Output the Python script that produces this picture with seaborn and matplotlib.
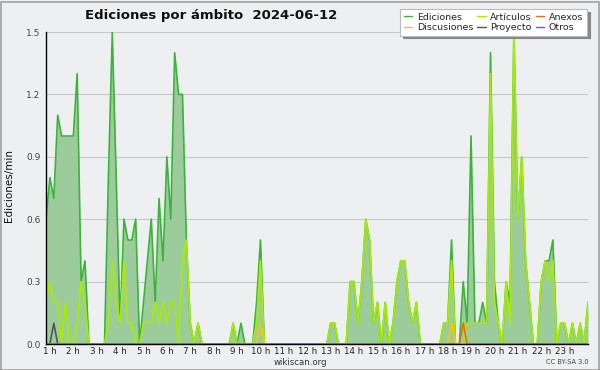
import numpy as np
import pandas as pd
import matplotlib
matplotlib.use("Agg")
import matplotlib.pyplot as plt
from matplotlib.lines import Line2D
from matplotlib.patches import Rectangle
import seaborn as sns

# 10 minute slots, first one at 00:50, last one at 24:00
start_min = 50
step_min = 10

# edits per minute, all namespaces (one row = 2 hours)
ediciones = [
    0.6, 0.8, 0.7, 1.1, 1.0, 1.0, 1.0, 1.0, 1.3, 0.3, 0.4, 0.0,
    0.0, 0.0, 0.0, 0.0, 0.8, 1.5, 0.8, 0.1, 0.6, 0.5, 0.5, 0.6,
    0.0, 0.2, 0.4, 0.6, 0.2, 0.7, 0.4, 0.9, 0.6, 1.4, 1.2, 1.2,
    0.5, 0.1, 0.0, 0.1, 0.0, 0.0, 0.0, 0.0, 0.0, 0.0, 0.0, 0.0,
    0.1, 0.0, 0.1, 0.0, 0.0, 0.0, 0.2, 0.5, 0.0, 0.0, 0.0, 0.0,
    0.0, 0.0, 0.0, 0.0, 0.0, 0.0, 0.0, 0.0, 0.0, 0.0, 0.0, 0.0,
    0.0, 0.1, 0.1, 0.0, 0.0, 0.0, 0.3, 0.3, 0.1, 0.3, 0.6, 0.5,
    0.1, 0.2, 0.0, 0.2, 0.0, 0.1, 0.3, 0.4, 0.4, 0.2, 0.1, 0.2,
    0.0, 0.0, 0.0, 0.0, 0.0, 0.0, 0.1, 0.1, 0.5, 0.0, 0.0, 0.3,
    0.1, 1.0, 0.1, 0.1, 0.2, 0.1, 1.4, 0.3, 0.1, 0.0, 0.3, 0.2,
    1.5, 0.6, 0.9, 0.4, 0.2, 0.0, 0.0, 0.3, 0.4, 0.4, 0.5, 0.0,
    0.1, 0.1, 0.0, 0.1, 0.0, 0.1, 0.0, 0.2,
]

# articles namespace
articulos = [
    0.2, 0.3, 0.2, 0.2, 0.0, 0.2, 0.0, 0.0, 0.1, 0.3, 0.2, 0.0,
    0.0, 0.0, 0.0, 0.0, 0.1, 0.4, 0.2, 0.1, 0.4, 0.1, 0.1, 0.0,
    0.0, 0.1, 0.1, 0.1, 0.2, 0.1, 0.2, 0.1, 0.2, 0.2, 0.0, 0.4,
    0.5, 0.1, 0.0, 0.1, 0.0, 0.0, 0.0, 0.0, 0.0, 0.0, 0.0, 0.0,
    0.1, 0.0, 0.0, 0.0, 0.0, 0.0, 0.1, 0.4, 0.0, 0.0, 0.0, 0.0,
    0.0, 0.0, 0.0, 0.0, 0.0, 0.0, 0.0, 0.0, 0.0, 0.0, 0.0, 0.0,
    0.0, 0.1, 0.1, 0.0, 0.0, 0.0, 0.3, 0.3, 0.1, 0.3, 0.6, 0.5,
    0.1, 0.2, 0.0, 0.2, 0.0, 0.1, 0.3, 0.4, 0.4, 0.2, 0.1, 0.2,
    0.0, 0.0, 0.0, 0.0, 0.0, 0.0, 0.1, 0.1, 0.4, 0.0, 0.0, 0.0,
    0.1, 0.1, 0.1, 0.1, 0.1, 0.1, 1.3, 0.2, 0.1, 0.0, 0.3, 0.1,
    1.5, 0.6, 0.9, 0.4, 0.2, 0.0, 0.0, 0.3, 0.4, 0.3, 0.4, 0.0,
    0.1, 0.1, 0.0, 0.1, 0.0, 0.1, 0.0, 0.2,
]

# the small namespaces only show up a few times
discusiones_t = ["10:00", "18:10"]
discusiones_v = [0.1, 0.1]
anexos_t = ["18:40"]
anexos_v = [0.1]
proyecto_t = ["01:10"]
proyecto_v = [0.1]
otros_t = []
otros_v = []

hour_labels = [f"{h} h" for h in range(1, 24)]

n = len(ediciones)
hours = (start_min + step_min * np.arange(n)) / 60


def spread(times, vals):
    arr = np.zeros(n)
    for t, v in zip(times, vals):
        hh, mm = t.split(":")
        arr[(int(hh) * 60 + int(mm) - start_min) // step_min] = v
    return arr


series = {
    "Ediciones": np.array(ediciones),
    "Artículos": np.array(articulos),
    "Anexos": spread(anexos_t, anexos_v),
    "Discusiones": spread(discusiones_t, discusiones_v),
    "Proyecto": spread(proyecto_t, proyecto_v),
    "Otros": spread(otros_t, otros_v),
}
colors = {
    "Ediciones": "#3cb43c",
    "Artículos": "#a8ec00",
    "Anexos": "#f06a14",
    "Discusiones": "#f5c518",
    "Proyecto": "#555555",
    "Otros": "#9a3ff0",
}

df = pd.concat(
    [pd.DataFrame({"hora": hours, "valor": v, "ambito": k}) for k, v in series.items()],
    ignore_index=True,
)

sns.set_style("white")
plt.rcParams["font.family"] = ["DejaVu Sans"]

bg = "#eeeff0"
fig = plt.figure(figsize=(6, 3.7), dpi=100, facecolor=bg)
ax = fig.add_axes([46 / 600, 26 / 370, 542 / 600, 312 / 370], facecolor=bg)

# filled area of the total
ax.fill_between(hours, 0, series["Ediciones"], color="#9ccb9c", lw=0, zorder=1)

order = ["Otros", "Ediciones", "Artículos", "Proyecto", "Discusiones", "Anexos"]
for i, name in enumerate(order):
    sub = df[df["ambito"] == name]
    sns.lineplot(data=sub, x="hora", y="valor", color=colors[name], lw=1.2,
                 estimator=None, sort=False, ax=ax, zorder=2 + i * 0.1)

ax.set_xlim(hours[0], hours[-1])
ax.set_ylim(0, 1.5)
ax.set_xlabel("")
ax.set_ylabel("")

ax.set_xticks(range(1, 24))
ax.set_xticklabels(hour_labels)
ax.set_xticks(hours, minor=True)
ax.set_yticks(np.arange(0, 1.51, 0.3))
ax.set_yticklabels([f"{v:.1f}" for v in np.arange(0, 1.51, 0.3)])
ax.set_yticks(np.arange(0, 1.51, 0.075), minor=True)
ax.tick_params(axis="both", which="both", direction="out", length=3, width=0.8,
               colors="black", labelsize=6.5, pad=1)
ax.tick_params(axis="x", which="both", length=2.5, pad=0, labelsize=6.3)
ax.tick_params(axis="x", labelcolor="#222222")
ax.tick_params(axis="y", labelcolor="#444444")

ax.grid(axis="y", which="major", color="#c8c8c8", lw=0.8)
ax.set_axisbelow(True)
for s in ["top", "right"]:
    ax.spines[s].set_visible(False)
for s in ["left", "bottom"]:
    ax.spines[s].set_color("black")
    ax.spines[s].set_linewidth(1.0)
    ax.spines[s].set_zorder(5)

# legend, column by column like the original
leg_names = ["Ediciones", "Discusiones", "Artículos", "Proyecto", "Anexos", "Otros"]
handles = [Line2D([0], [0], color=colors[k], lw=1) for k in leg_names]
leg = fig.legend(handles, leg_names, ncol=3, loc="upper right",
                 bbox_to_anchor=(587 / 600, 1 - 9 / 370), fontsize=6.8,
                 frameon=True, fancybox=False, shadow={"color": "#888888", "alpha": 1},
                 handlelength=0.9, handletextpad=0.5, columnspacing=0.4,
                 labelspacing=0.12, borderpad=0.4, borderaxespad=0)
leg.get_frame().set_facecolor("white")
leg.get_frame().set_edgecolor("#bbbbbb")
leg.get_frame().set_linewidth(0.8)
leg.set_zorder(10)

fig.text(85 / 600, 1 - 15 / 370, "Ediciones por ámbito  2024-06-12",
         fontsize=9.5, fontweight="bold", ha="left", va="center", color="#111111")
fig.text(9 / 600, 1 - 185 / 370, "Ediciones/min", rotation=90, fontsize=7.5,
         ha="center", va="center", color="#111111")
fig.text(300 / 600, 1 - 362.5 / 370, "wikiscan.org", fontsize=6.2,
         ha="center", va="center", color="#333333")
fig.text(589 / 600, 1 - 362 / 370, "CC BY-SA 3.0", fontsize=4.8,
         ha="right", va="center", color="#444444")

# frame round the picture
fig.patches.append(Rectangle((0.5 / 600, 0.5 / 370), 598 / 600, 368 / 370,
                             transform=fig.transFigure, fill=False,
                             edgecolor="#a0a0a0", lw=1.2))

fig.savefig("out.png", dpi=100, facecolor=bg)
